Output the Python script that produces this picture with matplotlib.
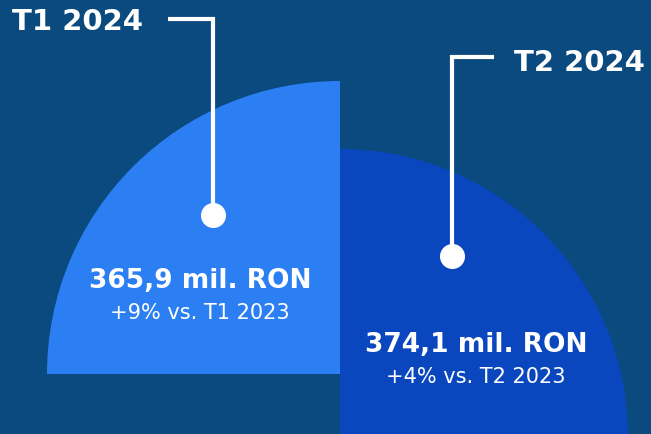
#!/usr/bin/python
# venituri pe trimestre - doua sferturi de cerc cu etichete

import matplotlib
matplotlib.use("Agg")
import matplotlib.pyplot as plt
from matplotlib.patches import Wedge

################################################################

# date
quarters = ["T1 2024", "T2 2024"]
values = [365.9, 374.1]          # mil. RON
growth = [9, 4]                  # % vs. anul trecut
prev_quarters = ["T1 2023", "T2 2023"]

################################################################

# aspect
BG = "#0b4a7f"
colors = ["#2b7ff2", "#0a47be"]
centers = [(340, 375), (340, 438)]
radii = [293, 288]
angles = [(180, 270), (270, 360)]   # axa y inversata
dots = [(213, 216), (452, 257)]
line_tops = [20, 58]
line_ends = [168, 494]
title_pos = [(12, 22, "left"), (645, 63, "right")]
value_pos = [(200, 281), (476, 345)]

W, H = 651, 435


def fmt_value(v):
    return ("%.1f" % v).replace(".", ",") + " mil. RON"


fig = plt.figure(figsize=(W / 100, H / 100), dpi=100, facecolor=BG)
ax = fig.add_axes([0, 0, 1, 1])
ax.set_xlim(0, W)
ax.set_ylim(H, 0)
ax.set_facecolor(BG)
ax.axis("off")

for i in range(len(quarters)):
    t1, t2 = angles[i]
    ax.add_patch(Wedge(centers[i], radii[i], t1, t2, facecolor=colors[i],
                       edgecolor="none", zorder=1 + i))

for i in range(len(quarters)):
    dx, dy = dots[i]
    ax.plot([line_ends[i], dx, dx], [line_tops[i], line_tops[i], dy],
            color="white", lw=3, solid_capstyle="butt",
            solid_joinstyle="miter", zorder=5)
    ax.plot(dx, dy, "o", color="white", ms=17, zorder=6)

    tx, ty, ha = title_pos[i]
    ax.text(tx, ty, quarters[i], color="white", fontsize=21,
            fontweight="bold", ha=ha, va="center", zorder=7)

    vx, vy = value_pos[i]
    ax.text(vx, vy, fmt_value(values[i]), color="white", fontsize=19,
            fontweight="bold", ha="center", va="center", zorder=7)
    ax.text(vx, vy + 32, "+%d%% vs. %s" % (growth[i], prev_quarters[i]),
            color="white", fontsize=15, ha="center", va="center", zorder=7)

fig.savefig("out.png", dpi=100, facecolor=BG)
